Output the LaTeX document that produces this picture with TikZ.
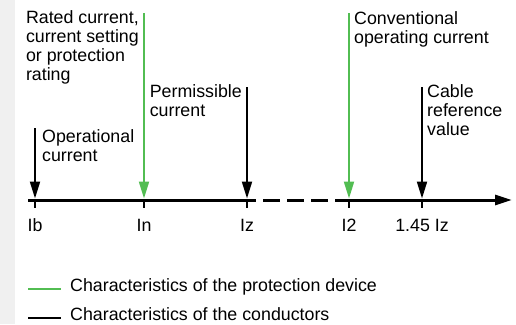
\documentclass[tikz,border=0pt]{standalone}
\usepackage{fontspec}
\setmainfont{Liberation Sans}
\usetikzlibrary{arrows.meta,positioning}
\definecolor{devgreen}{RGB}{82,189,82}
\definecolor{stripgray}{RGB}{240,240,240}

\begin{document}
\begin{tikzpicture}[x=1pt,y=-1pt,>={Triangle[length=17pt,width=10pt]},
  lbl/.style={inner sep=0pt,font=\fontsize{17.8}{19}\selectfont},
  valarrow/.style={->,line width=2pt}]
  \useasboundingbox (0,0) rectangle (516,324);
  \fill[stripgray] (0,0) rectangle (15,324);

  % points on the current axis
  \coordinate (start) at (28,200);
  \coordinate (Ib) at (35,200);
  \coordinate (In) at (144,200);
  \coordinate (Iz) at (247,200);
  \coordinate (gapL) at (256,200);
  \coordinate (gapR) at (335,200);
  \coordinate (I2) at (349,200);
  \coordinate (Iref) at (422,200);
  \coordinate (end) at (512,200);

  % axis
  \draw[line width=3pt] (start) -- (gapL);
  \foreach \d in {263,287,311}
    \draw[line width=3pt] (\d,200) -- ++(17,0);
  \draw[line width=3pt,->] (gapR) -- (end);
  \foreach \p/\t in {Ib/Ib,In/In,Iz/Iz,I2/I2,Iref/1.45 Iz}{
    \draw[line width=2pt] (\p) -- ++(0,8);
    \node[lbl,anchor=base] (l\p) at ([yshift=-31pt]\p) {\t};
  }

  % value arrows and their texts
  \coordinate (IbTop) at (35,128);
  \coordinate (InTop) at (144,13);
  \coordinate (IzTop) at (247,87);
  \coordinate (I2Top) at (349,13);
  \coordinate (IrefTop) at (422,87);
  \draw[valarrow] (IbTop) -- ([yshift=1.5pt]Ib);
  \draw[valarrow,devgreen] (InTop) -- ([yshift=1.5pt]In);
  \draw[valarrow] (IzTop) -- ([yshift=1.5pt]Iz);
  \draw[valarrow,devgreen] (I2Top) -- ([yshift=1.5pt]I2);
  \draw[valarrow] (IrefTop) -- ([yshift=1.5pt]Iref);

  \node[lbl,anchor=north west,align=left] (tIb) at (42,129) {Operational\\current};
  \node[lbl,anchor=north east,align=left] (tIn) at (139,10) {Rated current,\\current setting\\or protection\\rating};
  \node[lbl,anchor=north east,align=left] (tIz) at (242,84) {Permissible\\current};
  \node[lbl,anchor=north west,align=left] (tI2) at (354,11) {Conventional\\operating current};
  \node[lbl,anchor=north west,align=left] (tIref) at (427,84) {Cable\\reference\\value};

  % legend
  \coordinate (keyA) at (28,289);
  \coordinate (keyB) at (28,318);
  \draw[line width=2pt,devgreen] (keyA) -- ++(33,0);
  \draw[line width=2pt] (keyB) -- ++(33,0);
  \node[lbl,anchor=base west] (legA) at (70,291) {Characteristics of the protection device};
  \node[lbl,anchor=base west] (legB) at (70,320) {Characteristics of the conductors};
\end{tikzpicture}
\end{document}
